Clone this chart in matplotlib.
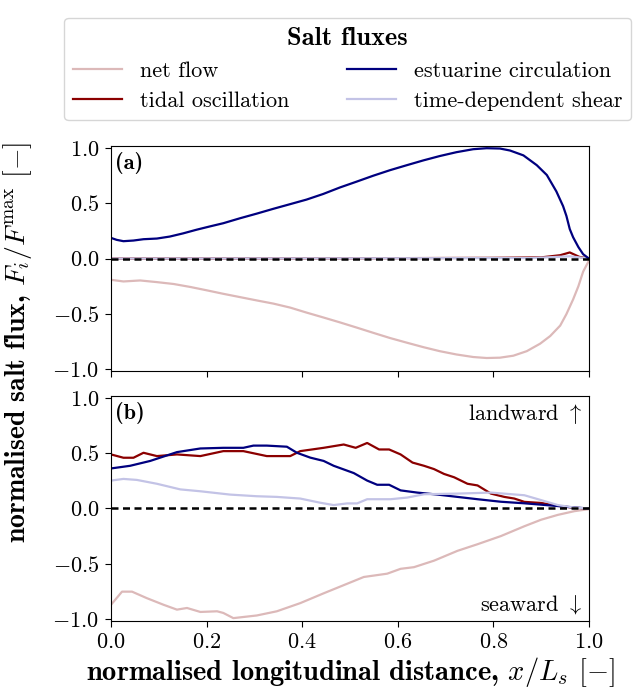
import matplotlib
matplotlib.use('Agg')
import matplotlib.pyplot as plt

# Computer Modern look without LaTeX
plt.rcParams['font.family'] = 'serif'
plt.rcParams['font.serif'] = ['cmr10']
plt.rcParams['mathtext.fontset'] = 'cm'
plt.rcParams['axes.formatter.use_mathtext'] = True

# colours of the four flux components
c_net = '#dcb9b9'
c_tid = '#8b0000'
c_est = '#00007f'
c_shr = '#c3c3e6'

# ---- panel (a) ----
a_est_x = [0.0, 0.012, 0.026, 0.047, 0.068, 0.096, 0.123, 0.151, 0.179, 0.207, 0.235, 0.270,
           0.305, 0.340, 0.375, 0.409, 0.444, 0.479, 0.514, 0.549, 0.584, 0.619, 0.654, 0.688,
           0.723, 0.758, 0.786, 0.814, 0.835, 0.863, 0.891, 0.912, 0.932, 0.946, 0.953, 0.960,
           0.967, 0.978, 0.988, 1.0]
a_est_y = [0.187, 0.169, 0.157, 0.163, 0.175, 0.181, 0.199, 0.228, 0.261, 0.291, 0.320, 0.365,
           0.407, 0.451, 0.493, 0.534, 0.585, 0.644, 0.697, 0.751, 0.801, 0.846, 0.890, 0.929,
           0.964, 0.991, 1.0, 0.997, 0.979, 0.935, 0.846, 0.757, 0.608, 0.475, 0.386, 0.267,
           0.193, 0.104, 0.039, 0.0]

a_net_x = [0.0, 0.026, 0.061, 0.096, 0.131, 0.166, 0.200, 0.235, 0.270, 0.305, 0.340, 0.375,
           0.409, 0.444, 0.479, 0.514, 0.549, 0.584, 0.619, 0.654, 0.688, 0.723, 0.758, 0.786,
           0.814, 0.842, 0.870, 0.898, 0.919, 0.940, 0.953, 0.967, 0.978, 0.988, 1.0]
a_net_y = [-0.193, -0.208, -0.199, -0.214, -0.231, -0.258, -0.288, -0.320, -0.350, -0.380,
           -0.409, -0.445, -0.490, -0.534, -0.579, -0.626, -0.674, -0.721, -0.763, -0.804,
           -0.840, -0.870, -0.893, -0.902, -0.899, -0.881, -0.840, -0.772, -0.703, -0.608,
           -0.504, -0.371, -0.252, -0.119, -0.02]

a_tid_x = [0.0, 0.5, 0.8, 0.9, 0.94, 0.96, 0.98, 1.0]
a_tid_y = [0.0, 0.002, 0.006, 0.01, 0.03, 0.055, 0.015, 0.0]

a_shr_x = [0.0, 0.5, 0.8, 0.88, 0.96, 1.0]
a_shr_y = [0.0, 0.002, 0.004, 0.004, 0.02, 0.0]

# ---- panel (b) ----
b_tid_x = [0.0, 0.026, 0.047, 0.068, 0.096, 0.138, 0.187, 0.235, 0.277, 0.326, 0.375, 0.396,
           0.445, 0.487, 0.512, 0.536, 0.561, 0.582, 0.606, 0.631, 0.655, 0.676, 0.697, 0.718,
           0.746, 0.767, 0.795, 0.823, 0.844, 0.865, 0.900, 0.935, 0.970, 1.0]
b_tid_y = [0.49, 0.46, 0.46, 0.505, 0.475, 0.49, 0.475, 0.52, 0.52, 0.475, 0.475, 0.52,
           0.55, 0.58, 0.55, 0.594, 0.535, 0.535, 0.49, 0.416, 0.387, 0.357, 0.313, 0.283,
           0.224, 0.209, 0.135, 0.105, 0.09, 0.06, 0.05, 0.024, 0.006, 0.0]

b_est_x = [0.0, 0.040, 0.082, 0.138, 0.187, 0.235, 0.277, 0.298, 0.326, 0.368, 0.389, 0.417,
           0.445, 0.466, 0.508, 0.536, 0.557, 0.582, 0.606, 0.641, 0.683, 0.725, 0.767, 0.816,
           0.865, 0.921, 0.970, 1.0]
b_est_y = [0.363, 0.387, 0.431, 0.511, 0.544, 0.55, 0.55, 0.57, 0.57, 0.56, 0.505, 0.461,
           0.431, 0.387, 0.321, 0.253, 0.215, 0.215, 0.164, 0.144, 0.126, 0.105, 0.084, 0.061,
           0.047, 0.027, 0.009, 0.0]

b_shr_x = [0.0, 0.026, 0.054, 0.096, 0.145, 0.187, 0.249, 0.305, 0.347, 0.396, 0.438, 0.466,
           0.494, 0.515, 0.536, 0.585, 0.620, 0.655, 0.725, 0.795, 0.865, 0.900, 0.935, 0.970, 1.0]
b_shr_y = [0.253, 0.268, 0.259, 0.224, 0.173, 0.156, 0.126, 0.111, 0.105, 0.09, 0.052, 0.031,
           0.046, 0.046, 0.084, 0.084, 0.099, 0.129, 0.135, 0.144, 0.120, 0.076, 0.031, 0.008, 0.0]

b_net_x = [0.0, 0.023, 0.044, 0.075, 0.110, 0.138, 0.159, 0.187, 0.222, 0.235, 0.256, 0.305,
           0.347, 0.396, 0.445, 0.487, 0.529, 0.578, 0.606, 0.634, 0.676, 0.725, 0.767, 0.816,
           0.865, 0.900, 0.935, 0.970, 1.0]
b_net_y = [-0.873, -0.754, -0.754, -0.813, -0.873, -0.917, -0.902, -0.938, -0.932, -0.947,
           -0.994, -0.970, -0.932, -0.858, -0.769, -0.695, -0.621, -0.591, -0.547, -0.532,
           -0.473, -0.384, -0.324, -0.25, -0.161, -0.102, -0.058, -0.024, -0.006]

yticks = [-1.0, -0.5, 0.0, 0.5, 1.0]
xticks = [0.0, 0.2, 0.4, 0.6, 0.8, 1.0]

fig = plt.figure(figsize=(6.38, 6.89), dpi=100)
ax_a = fig.add_axes([0.174, 0.4615, 0.749, 0.3266])
ax_b = fig.add_axes([0.174, 0.0987, 0.749, 0.3266])

lw = 1.6
# tidal drawn first in (a) so the near-zero shear line covers most of it
ax_a.plot(a_tid_x, a_tid_y, color=c_tid, lw=lw)
ax_a.plot(a_net_x, a_net_y, color=c_net, lw=lw)
ax_a.plot(a_shr_x, a_shr_y, color=c_shr, lw=lw)
ax_a.plot(a_est_x, a_est_y, color=c_est, lw=lw)

ax_b.plot(b_net_x, b_net_y, color=c_net, lw=lw, label='net flow')
ax_b.plot(b_tid_x, b_tid_y, color=c_tid, lw=lw, label='tidal oscillation')
ax_b.plot(b_est_x, b_est_y, color=c_est, lw=lw, label='estuarine circulation')
ax_b.plot(b_shr_x, b_shr_y, color=c_shr, lw=lw, label='time-dependent shear')

for ax in (ax_a, ax_b):
    ax.axhline(0, color='black', ls='--', lw=1.8, dashes=(2.8, 1.8), zorder=5)
    ax.set_xlim(0, 1)
    ax.set_ylim(-1.02, 1.02)
    ax.set_yticks(yticks)
    ax.set_xticks(xticks)
    ax.tick_params(labelsize=16, direction='out', length=4.5, pad=4)

ax_a.set_xticklabels([])
ax_a.text(0.008, 0.975, '(a)', transform=ax_a.transAxes, fontsize=16,
          family='cmb10', va='top', ha='left')
ax_b.text(0.008, 0.975, '(b)', transform=ax_b.transAxes, fontsize=16,
          family='cmb10', va='top', ha='left')
ax_b.text(0.985, 0.975, r'landward $\uparrow$', transform=ax_b.transAxes, fontsize=16,
          va='top', ha='right')
ax_b.text(0.985, 0.02, r'seaward $\downarrow$', transform=ax_b.transAxes, fontsize=16,
          va='bottom', ha='right')

ax_b.set_xlabel(r'normalised longitudinal distance, $x/L_s$ $[-]$', fontsize=20.5,
                family='cmb10', labelpad=2)
fig.text(0.028, 0.503, r'normalised salt flux, $F_i/F^{\mathrm{max}}$ $[-]$', fontsize=20,
         family='cmb10', rotation=90, ha='center', va='center')

handles, labels = ax_b.get_legend_handles_labels()
leg = fig.legend(handles, labels, loc='upper center', bbox_to_anchor=(0.545, 0.99), ncol=2,
                 fontsize=16, title='Salt fluxes', frameon=True, handlelength=2.2,
                 handletextpad=0.8, columnspacing=2.6, borderpad=0.4, labelspacing=0.5)
leg.get_title().set_family('cmb10')
leg.get_title().set_fontsize(19)

fig.savefig('out.png', dpi=100)
